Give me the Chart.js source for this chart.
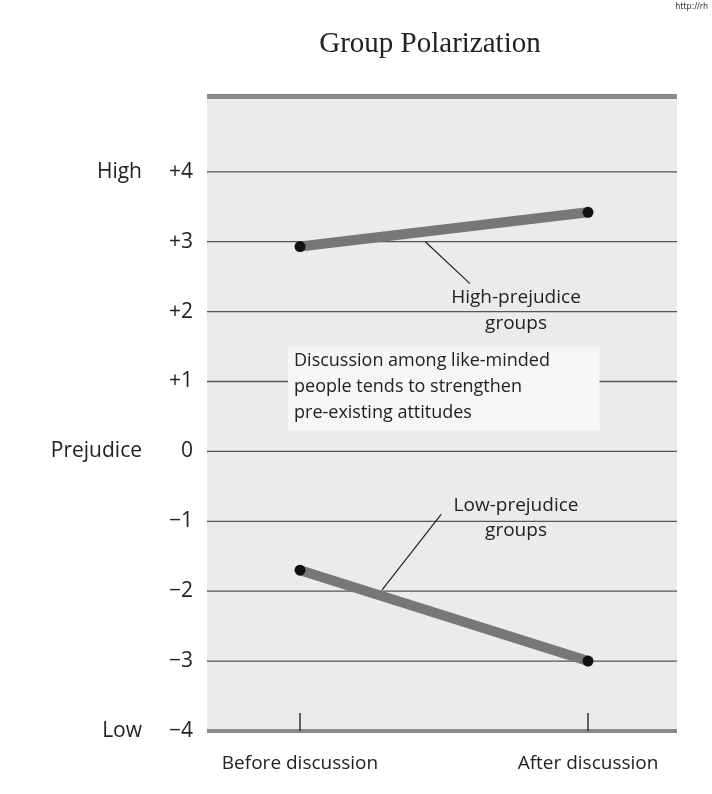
<!DOCTYPE html>
<html lang="en">
<head>
<meta charset="UTF-8" />
<title>Group Polarization</title>
<script src="https://cdn.jsdelivr.net/npm/chart.js"></script>
<style>
  body { margin: 0; background: #fff; }
  #wrap { position: relative; width: 712px; height: 794px; }
  #title { position: absolute; top: 26px; left: 150px; width: 560px; text-align: center;
           font-family: "Liberation Serif", serif; font-size: 29px; color: #222; }
  #url { position: absolute; top: 2px; right: 4px; font-family: "DejaVu Sans"; font-size: 8px; color: #333; }
</style>
</head>
<body>
<div id="wrap">
  <div id="url">http://rh</div>
  <div id="title">Group Polarization</div>
  <canvas id="c" width="712" height="794"></canvas>
</div>
<script>
  const xCategories = ["Before discussion", "After discussion"];
  const highPrejudice = [2.93, 3.42];
  const lowPrejudice = [-1.7, -3.0];
  const yTicks = [4, 3, 2, 1, 0, -1, -2, -3, -4];
  const yTickLabels = ["+4", "+3", "+2", "+1", "0", "\u22121", "\u22122", "\u22123", "\u22124"];
  const sideLabels = { "4": "High", "0": "Prejudice", "-4": "Low" };

  const font = '"Open Sans", "DejaVu Sans", sans-serif';

  const decor = {
    id: "decor",
    beforeDraw(chart) {
      const { ctx, chartArea: a, scales: { x, y } } = chart;
      ctx.save();
      ctx.fillStyle = "#ebebeb";
      ctx.fillRect(a.left, a.top, a.right - a.left, a.bottom - a.top);
      // top thick bar
      ctx.fillStyle = "#8a8a8a";
      ctx.fillRect(a.left, a.top - 3, a.right - a.left, 5);
      // grid lines
      ctx.strokeStyle = "#555";
      ctx.lineWidth = 1.3;
      yTicks.forEach(v => {
        const py = y.getPixelForValue(v);
        ctx.beginPath(); ctx.moveTo(a.left, py); ctx.lineTo(a.right, py); ctx.stroke();
      });
      // bottom axis
      ctx.fillStyle = "#8a8a8a";
      ctx.fillRect(a.left, y.getPixelForValue(-4) - 2, a.right - a.left, 4);
      // x ticks
      ctx.strokeStyle = "#333"; ctx.lineWidth = 1.5;
      [1, 2].forEach(v => {
        const px = x.getPixelForValue(v), py = y.getPixelForValue(-4);
        ctx.beginPath(); ctx.moveTo(px, py - 18); ctx.lineTo(px, py); ctx.stroke();
      });
      // annotation box
      const bx = x.getPixelForValue(1.0), by = y.getPixelForValue(1.5);
      const bw = x.getPixelForValue(2.04) - bx, bh = y.getPixelForValue(0.3) - by;
      ctx.fillStyle = "#f6f6f6";
      ctx.fillRect(bx - 12, by, bw + 12, bh);
      ctx.fillStyle = "#222";
      ctx.font = "18px " + font;
      ctx.textAlign = "left"; ctx.textBaseline = "middle";
      ["Discussion among like-minded", "people tends to strengthen", "pre-existing attitudes"]
        .forEach((t, i) => ctx.fillText(t, bx - 6, by + 14 + i * 26));
      // leader lines
      ctx.strokeStyle = "#222"; ctx.lineWidth = 1.2;
      const line = (x1, y1, x2, y2) => {
        ctx.beginPath();
        ctx.moveTo(x.getPixelForValue(x1), y.getPixelForValue(y1));
        ctx.lineTo(x.getPixelForValue(x2), y.getPixelForValue(y2));
        ctx.stroke();
      };
      line(1.435, 3.0, 1.59, 2.4);
      line(1.285, -1.98, 1.49, -0.9);
      ctx.font = "19px " + font;
      ctx.textAlign = "center";
      ctx.fillText("High-prejudice", x.getPixelForValue(1.75), y.getPixelForValue(2.2));
      ctx.fillText("groups", x.getPixelForValue(1.75), y.getPixelForValue(1.83));
      ctx.fillText("Low-prejudice", x.getPixelForValue(1.75), y.getPixelForValue(-0.77));
      ctx.fillText("groups", x.getPixelForValue(1.75), y.getPixelForValue(-1.14));
      // y tick labels and side labels
      ctx.font = "21px " + font;
      yTicks.forEach((v, i) => {
        const py = y.getPixelForValue(v);
        ctx.textAlign = "right";
        ctx.fillText(yTickLabels[i], a.left - 14, py);
        if (sideLabels[String(v)]) ctx.fillText(sideLabels[String(v)], a.left - 65, py);
      });
      // x labels
      ctx.textAlign = "center";
      ctx.font = "19px " + font;
      xCategories.forEach((c, i) => ctx.fillText(c, x.getPixelForValue(i + 1), y.getPixelForValue(-4) + 33));
      ctx.restore();
    }
  };

  const toPts = arr => arr.map((v, i) => ({ x: i + 1, y: v }));
  const ds = data => ({
    data: toPts(data), borderColor: "#777", borderWidth: 10, borderCapStyle: "butt",
    pointRadius: 5.5, pointBackgroundColor: "#111", pointBorderWidth: 0
  });

  new Chart(document.getElementById("c"), {
    type: "line",
    data: { datasets: [ds(highPrejudice), ds(lowPrejudice)] },
    plugins: [decor],
    options: {
      responsive: false, animation: false,
      layout: { padding: { left: 207, right: 35, top: 97, bottom: 63 } },
      plugins: { legend: { display: false }, tooltip: { enabled: false } },
      scales: {
        x: { type: "linear", min: 0.677, max: 2.309, display: false },
        y: { type: "linear", min: -4, max: 5.07, display: false }
      }
    }
  });
</script>
</body>
</html>
